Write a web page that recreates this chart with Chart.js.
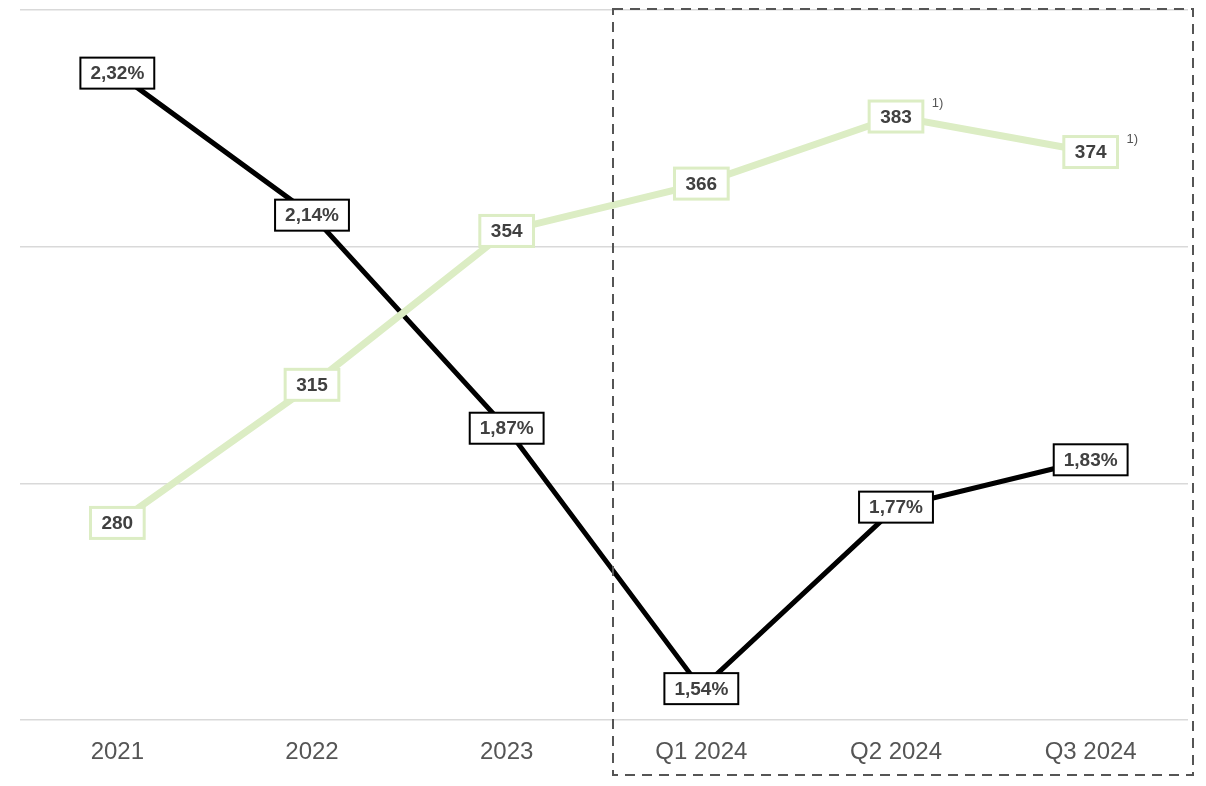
<!DOCTYPE html>
<html>
<head>
<meta charset="utf-8">
<script src="https://cdn.jsdelivr.net/npm/chart.js@4/dist/chart.umd.min.js"></script>
<style>
  html, body { margin: 0; padding: 0; background: #fff; }
  #wrap { width: 1206px; height: 786px; position: relative; }
</style>
</head>
<body>
<div id="wrap"><canvas id="chart" width="1206" height="786"></canvas></div>
<script>
const periods = ['2021', '2022', '2023', 'Q1 2024', 'Q2 2024', 'Q3 2024'];
const rateValues = [2.32, 2.14, 1.87, 1.54, 1.77, 1.83];
const countValues = [280, 315, 354, 366, 383, 374];
const countNotes = ['', '', '', '', '1)', '1)'];

const GREEN = '#dcedc4';
const TEXT = '#404040';
const FONT = 'Arial, "Liberation Sans", sans-serif';

function fmtRate(v) {
    return v.toFixed(2).replace('.', ',') + '%';
}

// value boxes centred on every point, plus footnote marks
const boxLabels = {
    id: 'boxLabels',
    afterDatasetsDraw(chart) {
        const ctx = chart.ctx;
        ctx.save();
        ctx.textAlign = 'center';
        ctx.textBaseline = 'middle';

        const drawBox = (x, y, text, border, lineWidth, padX) => {
            ctx.font = 'bold 19px ' + FONT;
            const w = ctx.measureText(text).width + padX * 2;
            const h = 31;
            ctx.fillStyle = '#fff';
            ctx.fillRect(x - w / 2, y - h / 2, w, h);
            ctx.strokeStyle = border;
            ctx.lineWidth = lineWidth;
            ctx.strokeRect(x - w / 2, y - h / 2, w, h);
            ctx.fillStyle = TEXT;
            ctx.fillText(text, x, y + 1);
            return w;
        };

        chart.getDatasetMeta(1).data.forEach((pt, i) => {
            drawBox(pt.x, pt.y, fmtRate(rateValues[i]), '#000', 2, 10);
        });
        chart.getDatasetMeta(0).data.forEach((pt, i) => {
            const w = drawBox(pt.x, pt.y, String(countValues[i]), GREEN, 3, 11);
            if (countNotes[i]) {
                ctx.font = '13px ' + FONT;
                ctx.fillStyle = '#555';
                ctx.textAlign = 'left';
                ctx.fillText(countNotes[i], pt.x + w / 2 + 9, pt.y - 13);
                ctx.textAlign = 'center';
            }
        });
        ctx.restore();
    }
};

// dashed frame around the quarterly figures
const quarterFrame = {
    id: 'quarterFrame',
    afterDraw(chart) {
        const ctx = chart.ctx;
        const x = chart.scales.x;
        const left = x.getPixelForValue(2.5) + 9;
        const right = chart.chartArea.right + 5;
        const top = chart.chartArea.top - 1;
        const bottom = chart.height - 11;
        ctx.save();
        ctx.strokeStyle = '#555';
        ctx.lineWidth = 2;
        ctx.setLineDash([10, 7]);
        ctx.strokeRect(left, top, right - left, bottom - top);
        ctx.restore();
    }
};

new Chart(document.getElementById('chart'), {
    type: 'line',
    data: {
        labels: periods,
        datasets: [{
            data: countValues,
            yAxisID: 'yCount',
            borderColor: GREEN,
            borderWidth: 7,
            pointRadius: 0,
            tension: 0,
            order: 0
        }, {
            data: rateValues,
            yAxisID: 'yRate',
            borderColor: '#000',
            borderWidth: 5,
            pointRadius: 0,
            tension: 0,
            order: 1
        }]
    },
    options: {
        responsive: false,
        animation: false,
        layout: { padding: { left: 20, right: 18, top: 10, bottom: 9 } },
        plugins: {
            legend: { display: false },
            tooltip: { enabled: false }
        },
        scales: {
            x: {
                offset: true,
                grid: { display: false },
                border: { display: false },
                ticks: {
                    color: '#555',
                    font: { family: FONT, size: 24 },
                    padding: 10
                }
            },
            yRate: {
                position: 'left',
                min: 1.5,
                max: 2.4,
                ticks: { display: false, stepSize: 0.3 },
                border: { display: false },
                grid: { color: '#d9d9d9', lineWidth: 1.5, drawTicks: false }
            },
            yCount: {
                position: 'right',
                min: 230,
                max: 410,
                display: false
            }
        }
    },
    plugins: [boxLabels, quarterFrame]
});
</script>
</body>
</html>
